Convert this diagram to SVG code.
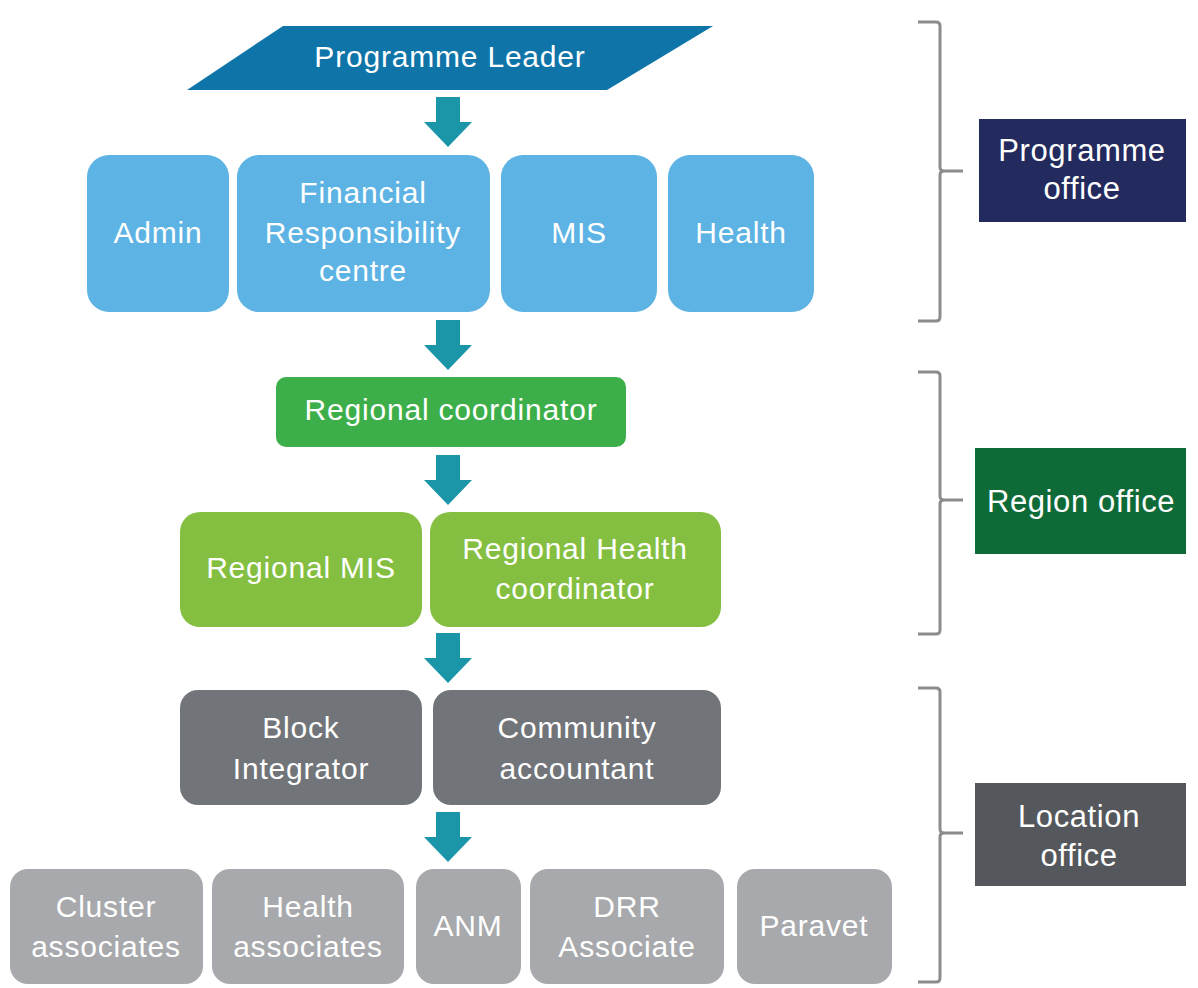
<svg xmlns="http://www.w3.org/2000/svg" width="1198" height="988" viewBox="0 0 1198 988">
  <style>
    text { font-family: "Liberation Sans", Arial, sans-serif; fill: #ffffff; text-anchor: middle; }
    .t { font-size: 30px; letter-spacing: 0.8px; }
    .lbl { font-size: 31px; letter-spacing: 0.6px; }
    .office { fill: #5db3e3; }
    .rc { fill: #3daf4a; }
    .rg { fill: #84bf41; }
    .loc { fill: #717479; }
    .fld { fill: #a7a9ac; }
    .brace { fill: none; stroke: #8a8c8e; stroke-width: 3; stroke-linejoin: round; }
  </style>
  <defs>
    <!-- downward block arrow, origin at top centre -->
    <path id="down" d="M -12 0 H 12 V 25 H 24 L 0 50 L -24 25 H -12 Z" fill="#1a96a8"/>
  </defs>
  <rect width="1198" height="988" fill="#ffffff"/>

  <g id="connectors">
    <use href="#down" x="448" y="97"/>
    <use href="#down" x="448" y="320"/>
    <use href="#down" x="448" y="455"/>
    <use href="#down" x="448" y="633"/>
    <use href="#down" x="448" y="812"/>
  </g>

  <g id="programme-leader">
    <polygon points="283,26 713,26 607,90 187,90" fill="#0f75a8"/>
    <text class="t" x="450" y="67">Programme Leader</text>
  </g>

  <g id="admin">
    <rect class="office" x="87" y="155" width="142" height="157" rx="22"/>
    <text class="t" x="158" y="243">Admin</text>
  </g>
  <g id="financial">
    <rect class="office" x="237" y="155" width="253" height="157" rx="22"/>
    <text class="t" x="363" y="203">Financial</text>
    <text class="t" x="363" y="243">Responsibility</text>
    <text class="t" x="363" y="281">centre</text>
  </g>
  <g id="mis">
    <rect class="office" x="501" y="155" width="156" height="157" rx="22"/>
    <text class="t" x="579" y="243">MIS</text>
  </g>
  <g id="health">
    <rect class="office" x="668" y="155" width="146" height="157" rx="22"/>
    <text class="t" x="741" y="243">Health</text>
  </g>

  <g id="regional-coordinator">
    <rect class="rc" x="276" y="377" width="350" height="70" rx="10"/>
    <text class="t" x="451" y="420">Regional coordinator</text>
  </g>

  <g id="regional-mis">
    <rect class="rg" x="180" y="512" width="242" height="115" rx="20"/>
    <text class="t" x="301" y="578">Regional MIS</text>
  </g>
  <g id="regional-health">
    <rect class="rg" x="430" y="512" width="291" height="115" rx="20"/>
    <text class="t" x="575" y="559">Regional Health</text>
    <text class="t" x="575" y="599">coordinator</text>
  </g>

  <g id="block-integrator">
    <rect class="loc" x="180" y="690" width="242" height="115" rx="18"/>
    <text class="t" x="301" y="738">Block</text>
    <text class="t" x="301" y="779">Integrator</text>
  </g>
  <g id="community-accountant">
    <rect class="loc" x="433" y="690" width="288" height="115" rx="18"/>
    <text class="t" x="577" y="738">Community</text>
    <text class="t" x="577" y="779">accountant</text>
  </g>

  <g id="cluster-associates">
    <rect class="fld" x="10" y="869" width="193" height="115" rx="18"/>
    <text class="t" x="106" y="917">Cluster</text>
    <text class="t" x="106" y="957">associates</text>
  </g>
  <g id="health-associates">
    <rect class="fld" x="212" y="869" width="192" height="115" rx="18"/>
    <text class="t" x="308" y="917">Health</text>
    <text class="t" x="308" y="957">associates</text>
  </g>
  <g id="anm">
    <rect class="fld" x="416" y="869" width="105" height="115" rx="18"/>
    <text class="t" x="468" y="936">ANM</text>
  </g>
  <g id="drr-associate">
    <rect class="fld" x="530" y="869" width="194" height="115" rx="18"/>
    <text class="t" x="627" y="917">DRR</text>
    <text class="t" x="627" y="957">Associate</text>
  </g>
  <g id="paravet">
    <rect class="fld" x="737" y="869" width="155" height="115" rx="18"/>
    <text class="t" x="814" y="936">Paravet</text>
  </g>

  <g id="programme-office">
    <path class="brace" d="M 918 22 H 936 Q 940 22 940 26 V 167 Q 940 171 944 171 H 963 M 944 171 Q 940 171 940 175 V 317 Q 940 321 936 321 H 918"/>
    <rect x="979" y="119" width="207" height="103" fill="#222a5e"/>
    <text class="lbl" x="1082" y="161">Programme</text>
    <text class="lbl" x="1082" y="199">office</text>
  </g>

  <g id="region-office">
    <path class="brace" d="M 918 372 H 936 Q 940 372 940 376 V 496 Q 940 500 944 500 H 963 M 944 500 Q 940 500 940 504 V 630 Q 940 634 936 634 H 918"/>
    <rect x="975" y="448" width="211" height="106" fill="#0e6b37"/>
    <text class="lbl" x="1081" y="512">Region office</text>
  </g>

  <g id="location-office">
    <path class="brace" d="M 918 688 H 936 Q 940 688 940 692 V 829 Q 940 833 944 833 H 963 M 944 833 Q 940 833 940 837 V 978 Q 940 982 936 982 H 918"/>
    <rect x="975" y="783" width="211" height="103" fill="#54575b"/>
    <text class="lbl" x="1079" y="827">Location</text>
    <text class="lbl" x="1079" y="866">office</text>
  </g>
</svg>
